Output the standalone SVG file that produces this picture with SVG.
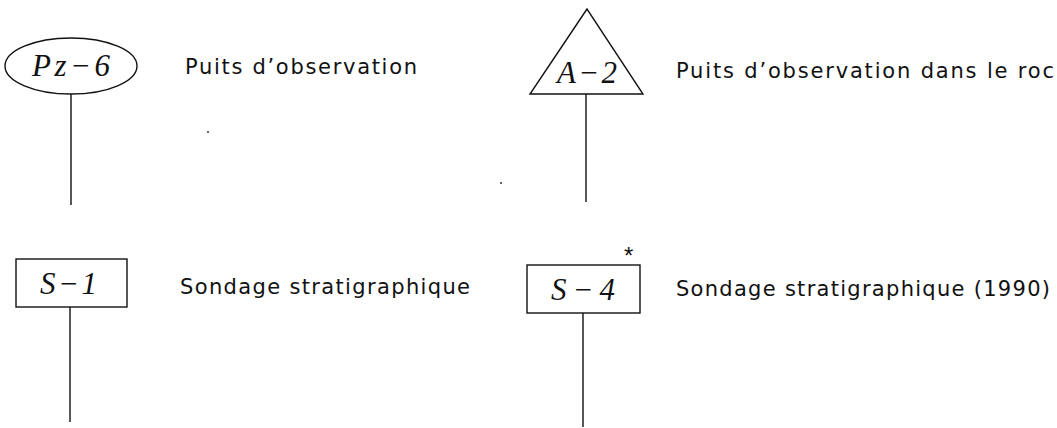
<svg xmlns="http://www.w3.org/2000/svg" width="1057" height="428" viewBox="0 0 1057 428">
<style>
.shape{fill:#fff;stroke:#111;stroke-width:1.4}
.conn{stroke:#111;stroke-width:1.4;fill:none}
.lbl{font-family:"Liberation Serif","DejaVu Serif",serif;font-style:italic;font-size:31px;fill:#111}
.desc{font-family:"DejaVu Sans","Liberation Sans",sans-serif;font-size:21px;fill:#111}
.ast{font-family:"Liberation Sans",sans-serif;font-size:24px;fill:#111}
</style>
<rect width="1057" height="428" fill="#fff"/>
<g id="connectors">
<line class="conn" x1="71" y1="94" x2="71" y2="205"/>
<line class="conn" x1="586" y1="94" x2="586" y2="202"/>
<line class="conn" x1="70" y1="307" x2="70" y2="422"/>
<line class="conn" x1="583" y1="313" x2="583" y2="427"/>
</g>
<g id="node-pz6">
<ellipse class="shape" cx="71" cy="66" rx="66" ry="28"/>
<text class="lbl" x="32" y="76" textLength="78" lengthAdjust="spacing">Pz−6</text>
</g>
<g id="desc-pz6"><text class="desc" x="185" y="74" textLength="232" lengthAdjust="spacing">Puits d’observation</text></g>
<g id="node-a2">
<polygon class="shape" points="587,9 530,94 643,94"/>
<text class="lbl" x="557" y="83" textLength="60" lengthAdjust="spacing">A−2</text>
</g>
<g id="desc-a2"><text class="desc" x="676" y="78" textLength="378" lengthAdjust="spacing">Puits d’observation dans le roc</text></g>
<g id="node-s1">
<rect class="shape" x="16" y="259" width="111" height="48"/>
<text class="lbl" x="40" y="294" textLength="57" lengthAdjust="spacing">S−1</text>
</g>
<g id="desc-s1"><text class="desc" x="180" y="294" textLength="290" lengthAdjust="spacing">Sondage stratigraphique</text></g>
<g id="node-s4">
<rect class="shape" x="527" y="265" width="113" height="48"/>
<text class="lbl" x="551" y="300" textLength="64" lengthAdjust="spacing">S−4</text>
<text class="ast" x="624" y="264">*</text>
</g>
<g id="desc-s4"><text class="desc" x="676" y="296" textLength="374" lengthAdjust="spacing">Sondage stratigraphique (1990)</text></g>
<g id="specks" fill="#333">
<circle cx="208" cy="132" r="1"/>
<circle cx="501" cy="183" r="1"/>
</g>
</svg>
